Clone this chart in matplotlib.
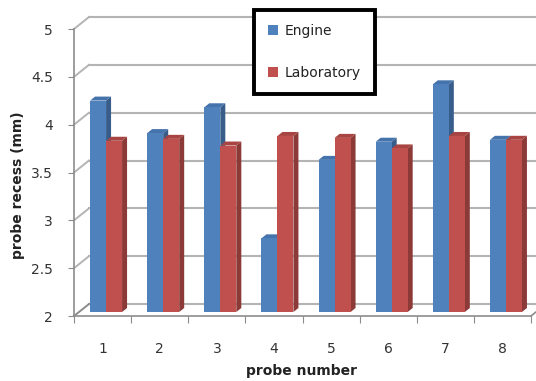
import matplotlib.pyplot as plt
from matplotlib.patches import Polygon, Patch
import numpy as np

probes = [1, 2, 3, 4, 5, 6, 7, 8]
engine = [4.21, 3.87, 4.14, 2.77, 3.59, 3.78, 4.38, 3.80]
laboratory = [3.79, 3.81, 3.74, 3.84, 3.82, 3.71, 3.84, 3.80]
yticks = [2, 2.5, 3, 3.5, 4, 4.5, 5]

# colours: front, side, top
blue = ("#4f81bd", "#385d8a", "#4573ab")
red = ("#c0504d", "#8c3a38", "#a84542")

W, H = 536, 381
fig = plt.figure(figsize=(W / 100, H / 100), dpi=100)
ax = fig.add_axes([74 / W, 65 / H, 457 / W, 287 / H])
ax.set_xlim(0.5, 8.5)
ax.set_ylim(2, 5)
ax.patch.set_visible(False)

# pixels per data unit
px_x = 457 / 8
px_y = 287 / 3

# depth of the back wall and of the bars, in data units
wall_dx, wall_dy = 15 / px_x, 12 / px_y
bar_ox, bar_oy = 3.5 / px_x, 4 / px_y
bar_dx, bar_dy = 5 / px_x, 4 / px_y

grid_c = "#b4b4b4"
axis_c = "#8c8c8c"

# back wall gridlines + diagonals on the left wall
for y in yticks:
    ax.plot([0.5 + wall_dx, 8.5 + wall_dx + 1], [y + wall_dy, y + wall_dy],
            color=grid_c, lw=1.5, clip_on=False, zorder=1)
    ax.plot([0.5, 0.5 + wall_dx], [y, y + wall_dy],
            color=grid_c if y > 2 else axis_c, lw=1.4, clip_on=False, zorder=1)
ax.plot([8.5, 8.5 + wall_dx], [2, 2 + wall_dy], color=axis_c, lw=1.2,
        clip_on=False, zorder=1)


def bar3d(x0, w, v, cols):
    x0 = x0 + bar_ox
    b = 2 + bar_oy
    top = v + bar_oy
    side = [(x0 + w, b), (x0 + w, top), (x0 + w + bar_dx, top + bar_dy),
            (x0 + w + bar_dx, b + bar_dy)]
    lid = [(x0, top), (x0 + w, top), (x0 + w + bar_dx, top + bar_dy),
           (x0 + bar_dx, top + bar_dy)]
    ax.add_patch(Polygon(side, closed=True, fc=cols[1], ec="none", zorder=3, clip_on=False))
    ax.add_patch(Polygon(lid, closed=True, fc=cols[2], ec="none", zorder=3, clip_on=False))
    ax.add_patch(Polygon([(x0, b), (x0 + w, b), (x0 + w, top), (x0, top)],
                         closed=True, fc=cols[0], ec="none", zorder=3, clip_on=False))


bw = 0.28
for p, e, l in zip(probes, engine, laboratory):
    bar3d(p - bw, bw, e, blue)
    bar3d(p, bw, l, red)

# front axes
for s in ["top", "right"]:
    ax.spines[s].set_visible(False)
for s in ["left", "bottom"]:
    ax.spines[s].set_color(axis_c)
    ax.spines[s].set_linewidth(1.2)

ax.set_yticks(yticks)
ax.set_yticklabels(["2", "2.5", "3", "3.5", "4", "4.5", "5"])
ax.tick_params(axis="y", length=4, color=axis_c, pad=11, labelsize=10,
               labelcolor="#333333")
ax.set_xticks(np.arange(0.5, 9, 1))
ax.set_xticklabels([])
ax.set_xticks(probes, minor=True)
ax.set_xticklabels([str(p) for p in probes], minor=True)
ax.tick_params(axis="x", which="major", length=5, color=axis_c, direction="out")
ax.tick_params(axis="x", which="minor", length=0, pad=19, labelsize=10,
               labelcolor="#333333")

fig.text(18 / W, 1 - 185 / H, "probe recess (mm)", rotation=90, ha="center",
         va="center", fontsize=10, fontweight="bold", color="#222222")
fig.text(302 / W, 1 - 371 / H, "probe number", ha="center", va="center",
         fontsize=10, fontweight="bold", color="#222222")

handles = [Patch(fc=blue[0]), Patch(fc=red[0])]
leg = fig.legend(handles, ["Engine", "Laboratory"], loc="upper left",
                 bbox_to_anchor=(254 / W, 1 - 10 / H), fontsize=10,
                 frameon=True, fancybox=False, framealpha=1, labelspacing=2.0,
                 handlelength=0.7, handleheight=0.7, handletextpad=0.5,
                 borderpad=1.0, borderaxespad=0)
leg.get_frame().set_edgecolor("black")
leg.get_frame().set_linewidth(2.8)
for t in leg.get_texts():
    t.set_color("#222222")

fig.savefig("out.png", dpi=100)
